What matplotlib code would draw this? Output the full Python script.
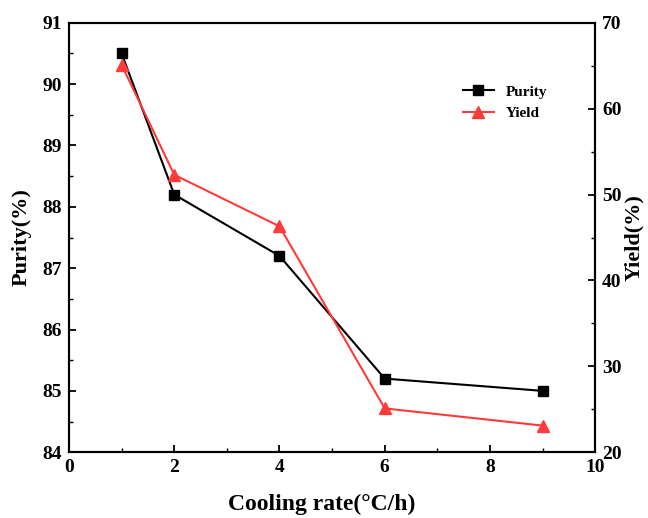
import matplotlib.pyplot as plt
import numpy as np

# cooling rate (°C/h) vs purity and yield
rate = [1, 2, 4, 6, 9]
purity = [90.5, 88.2, 87.2, 85.2, 85.0]
yield_pct = [65.1, 52.3, 46.3, 25.1, 23.1]

plt.rcParams['font.family'] = ['Liberation Serif', 'DejaVu Serif']
plt.rcParams['font.weight'] = 'bold'

fig = plt.figure(figsize=(6.48, 5.18), dpi=100)
ax = fig.add_axes([0.1065, 0.127, 0.812, 0.829])
ax2 = ax.twinx()

l1, = ax.plot(rate, purity, color='black', marker='s', markersize=7, lw=1.5, label='Purity')
l2, = ax2.plot(rate, yield_pct, color='#ff3a3a', marker='^', markersize=8, lw=1.5, label='Yield')

ax.set_xlim(0, 10)
ax.set_ylim(84, 91)
ax2.set_ylim(20, 70)
ax.set_xticks(np.arange(0, 11, 2))
ax.set_xticks(np.arange(1, 10, 2), minor=True)
ax.set_yticks(np.arange(84, 92, 1))
ax.set_yticks(np.arange(84.5, 91, 1), minor=True)
ax2.set_yticks(np.arange(20, 71, 10))
ax2.set_yticks(np.arange(25, 70, 10), minor=True)

for a in (ax, ax2):
    a.tick_params(which='major', direction='in', length=5, width=1.3, labelsize=14, pad=5)
    a.tick_params(which='minor', direction='in', length=3, width=1.0)
    for s in a.spines.values():
        s.set_linewidth(1.5)
ax.tick_params(top=False, right=False, which='both')
ax2.tick_params(left=False, which='both')

ax.set_xlabel('Cooling rate(°C/h)', fontsize=17, fontweight='bold')
ax.xaxis.set_label_coords(0.48, -0.097)
ax.set_ylabel('Purity(%)', fontsize=16, fontweight='bold', labelpad=8)
ax2.set_ylabel('Yield(%)', fontsize=16, fontweight='bold', labelpad=2)

ax.legend(handles=[l1, l2], loc='upper left', bbox_to_anchor=(0.723, 0.887),
          frameon=False, fontsize=11, handlelength=2.0, labelspacing=0.5)

fig.savefig('out.png', dpi=100)
